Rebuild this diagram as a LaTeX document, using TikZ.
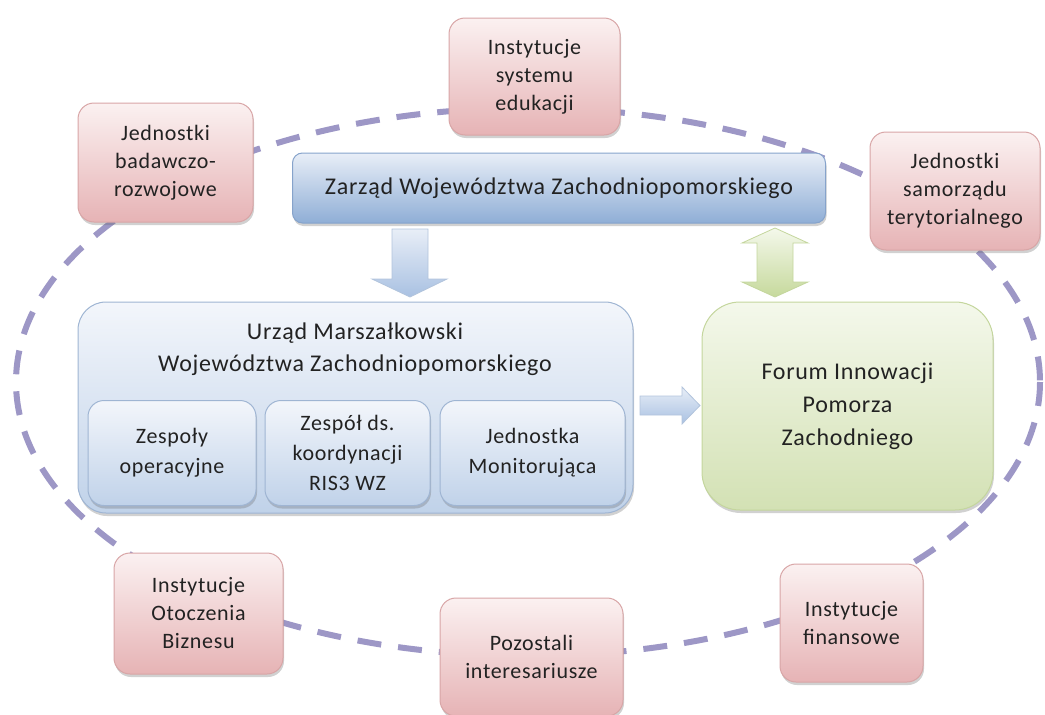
\documentclass[tikz,border=0pt]{standalone}
\usepackage{fontspec}
\setmainfont[LetterSpace=3]{Carlito}
\usetikzlibrary{shadows}
\definecolor{dashc}{HTML}{9D97C6}
\definecolor{pinktop}{HTML}{FBF1F1}
\definecolor{pinkbot}{HTML}{E6B3B5}
\definecolor{pinkbd}{HTML}{D8A5A6}
\definecolor{bluetop}{HTML}{F3F6FB}
\definecolor{bluebot}{HTML}{C0D2E9}
\definecolor{bluebd}{HTML}{9FB5D3}
\definecolor{ztop}{HTML}{E8EEF7}
\definecolor{zbot}{HTML}{8FAED6}
\definecolor{zbd}{HTML}{86A3CB}
\definecolor{greentop}{HTML}{F4F8EB}
\definecolor{greenbot}{HTML}{D3E1B4}
\definecolor{greenbd}{HTML}{C4D69D}
\definecolor{garrbot}{HTML}{C6D99C}
\definecolor{barrbot}{HTML}{A9C1E2}
\definecolor{txt}{HTML}{222222}
\tikzset{
  shad/.style={drop shadow={shadow xshift=1pt, shadow yshift=-3pt, opacity=.3, fill=black!60}},
  pinkbox/.style={shad, draw=pinkbd, line width=1pt, rounded corners=16pt, top color=pinktop, bottom color=pinkbot,
    align=center, text=txt, font=\fontsize{22}{28}\selectfont, inner sep=0pt},
  bluebox/.style={shad, draw=bluebd, line width=1pt, rounded corners=16pt, top color=bluetop, bottom color=bluebot,
    align=center, text=txt, font=\fontsize{22}{30}\selectfont, inner sep=0pt},
  bigblue/.style={shad, draw=bluebd, line width=1pt, rounded corners=28pt, top color=bluetop, bottom color=bluebot, inner sep=0pt},
  zbox/.style={shad, draw=zbd, line width=1pt, rounded corners=10pt, top color=ztop, bottom color=zbot,
    text=txt, font=\fontsize{24}{30}\selectfont, inner sep=0pt},
  greenbox/.style={shad, draw=greenbd, line width=1pt, rounded corners=38pt, top color=greentop, bottom color=greenbot,
    align=center, text=txt, font=\fontsize{24}{33}\selectfont, inner sep=0pt},
  titletext/.style={align=center, text=txt, font=\fontsize{24}{32}\selectfont, inner sep=0pt},
  ring/.style={draw=dashc, line width=6pt, dash pattern=on 24pt off 17pt},
  bluearrow/.style={draw=bluebd!80, line width=.8pt, top color=ztop, bottom color=barrbot},
  greenarrow/.style={draw=greenbd, line width=.8pt, top color=greentop, bottom color=garrbot},
}
\begin{document}
\begin{tikzpicture}[x=1pt,y=-1pt]
\useasboundingbox (0,0) rectangle (1045,715);
% dashed ring
\draw[ring] (528,382) ellipse [x radius=512, y radius=274];
% central structure
\node[zbox, minimum width=533pt, minimum height=70pt] (zarzad) at (559,188) {Zarząd Województwa Zachodniopomorskiego};
\node[bigblue, minimum width=555pt, minimum height=211pt] (urzad) at (355.5,407.5) {};
\node[titletext] (urzadt) at (355,349) {Urząd Marszałkowski\\Województwa Zachodniopomorskiego};
\node[bluebox, minimum width=168pt, minimum height=105pt] (zo) at (172,453) {Zespoły\\operacyjne};
\node[bluebox, minimum width=165pt, minimum height=105pt] (zk) at (347.5,453) {Zespół ds.\\koordynacji\\RIS3 WZ};
\node[bluebox, minimum width=185pt, minimum height=105pt] (jm) at (532.5,453) {Jednostka\\Monitorująca};
\node[greenbox, minimum width=291pt, minimum height=208pt] (forum) at (847.5,406) {Forum Innowacji\\Pomorza\\Zachodniego};
% block arrows
\path[bluearrow] (392,229) -- (428,229) -- (428,279) -- (447,279) -- (410,297) -- (372,279) -- (392,279) -- cycle;
\path[greenarrow] (775,228) -- (808,243) -- (793,243) -- (793,282) -- (808,282) -- (775,297) -- (742,282) -- (757,282) -- (757,243) -- (742,243) -- cycle;
\path[bluearrow] (640,396) -- (682,396) -- (682,387) -- (700,405.5) -- (682,424) -- (682,415) -- (640,415) -- cycle;
% surrounding stakeholders
\node[pinkbox, minimum width=175pt, minimum height=119pt] (jbr) at (165.5,162.5) {Jednostki\\badawczo-\\rozwojowe};
\node[pinkbox, minimum width=171pt, minimum height=117pt] (ise) at (534.5,76.5) {Instytucje\\systemu\\edukacji};
\node[pinkbox, minimum width=170pt, minimum height=118pt] (jst) at (955,191) {Jednostki\\samorządu\\terytorialnego};
\node[pinkbox, minimum width=169pt, minimum height=121pt] (iob) at (198.5,613.5) {Instytucje\\Otoczenia\\Biznesu};
\node[pinkbox, minimum width=183pt, minimum height=118pt] (pi) at (531.5,657) {Pozostali\\interesariusze};
\node[pinkbox, minimum width=143pt, minimum height=118pt] (ifin) at (851.5,623) {Instytucje\\finansowe};
\end{tikzpicture}
\end{document}
